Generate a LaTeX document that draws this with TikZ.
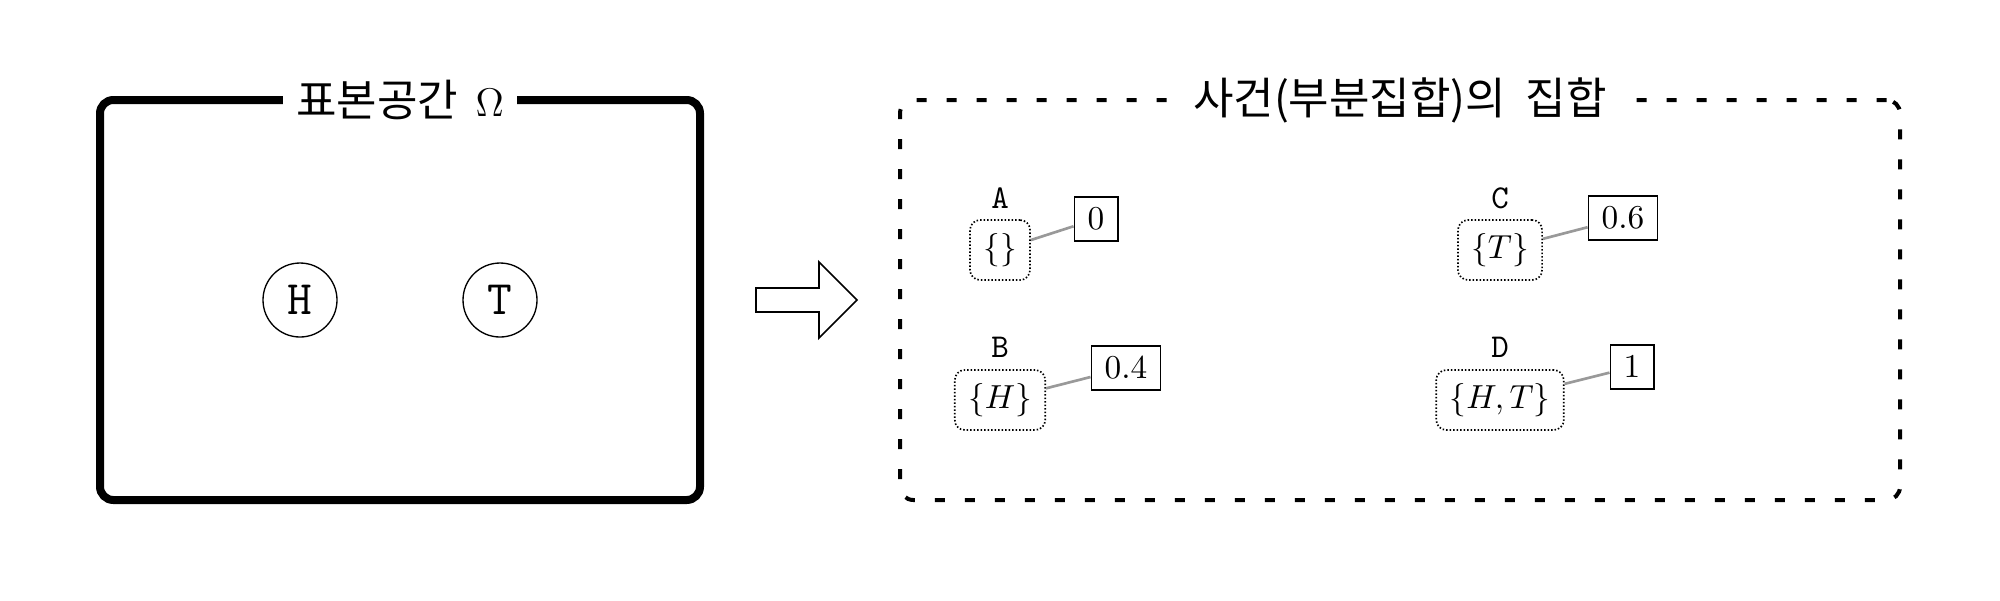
\documentclass[tikz,border=0pt]{standalone}
\usepackage{fontspec}
\newfontfamily\krfont{Noto Sans CJK KR}
\begin{document}
\begin{tikzpicture}[x=0.3pt,y=-0.3pt,
  sampleframe/.style={draw, line width=2.4pt, rounded corners=4pt, minimum width=180pt, minimum height=120pt, inner sep=0pt},
  eventframe/.style={draw, line width=1.2pt, loosely dashed, rounded corners=4pt, minimum width=300pt, minimum height=120pt, inner sep=0pt},
  frametitle/.style={fill=white, inner xsep=4pt, inner ysep=2pt, font=\krfont\fontsize{13.2}{16}\selectfont},
  outcome/.style={draw, circle, minimum size=22.2pt, inner sep=0pt, font=\ttfamily\Large},
  setbox/.style={draw, line width=0.5pt, dash pattern=on 0.45pt off 0.6pt, rounded corners=3pt, inner sep=4pt},
  evlabel/.style={font=\ttfamily, anchor=base, inner sep=0pt},
  valbox/.style={draw, line width=0.5pt, inner xsep=4pt, inner ysep=3.4pt},
  link/.style={draw=black!40, line width=0.8pt}
]
\useasboundingbox (0,0) rectangle (2000,600);
% sample space
\node[sampleframe] (omega) at (400,300) {};
\node[frametitle] (omegatitle) at (400,100) {표본공간\hspace{0.4em}$\Omega$};
\node[outcome] (h) at (300,300) {H};
\node[outcome] (t) at (500,300) {T};
% block arrow
\draw[line width=0.5pt] (756,288) -- (819,288) -- (819,262) -- (857,300) -- (819,338) -- (819,312) -- (756,312) -- cycle;
% events
\node[eventframe] (events) at (1400,300) {};
\node[frametitle] (eventstitle) at (1400,100) {사건(부분집합)의\hspace{0.45em}집합};
% A
\node[setbox] (sa) at (1000,250) {$\{\}$};
\node[evlabel] (la) at (1000,208) {A};
\node[valbox] (va) at (1096,219) {$0$};
\draw[link] (sa) -- (va);
% B
\node[setbox] (sb) at (1000,400) {$\{H\}$};
\node[evlabel] (lb) at (1000,357) {B};
\node[valbox] (vb) at (1126,368) {$0.4$};
\draw[link] (sb) -- (vb);
% C
\node[setbox] (sc) at (1500,250) {$\{T\}$};
\node[evlabel] (lc) at (1500,208) {C};
\node[valbox] (vc) at (1623,218) {$0.6$};
\draw[link] (sc) -- (vc);
% D
\node[setbox] (sd) at (1500,400) {$\{H,T\}$};
\node[evlabel] (ld) at (1500,357) {D};
\node[valbox] (vd) at (1632,367) {$1$};
\draw[link] (sd) -- (vd);
\end{tikzpicture}
\end{document}
